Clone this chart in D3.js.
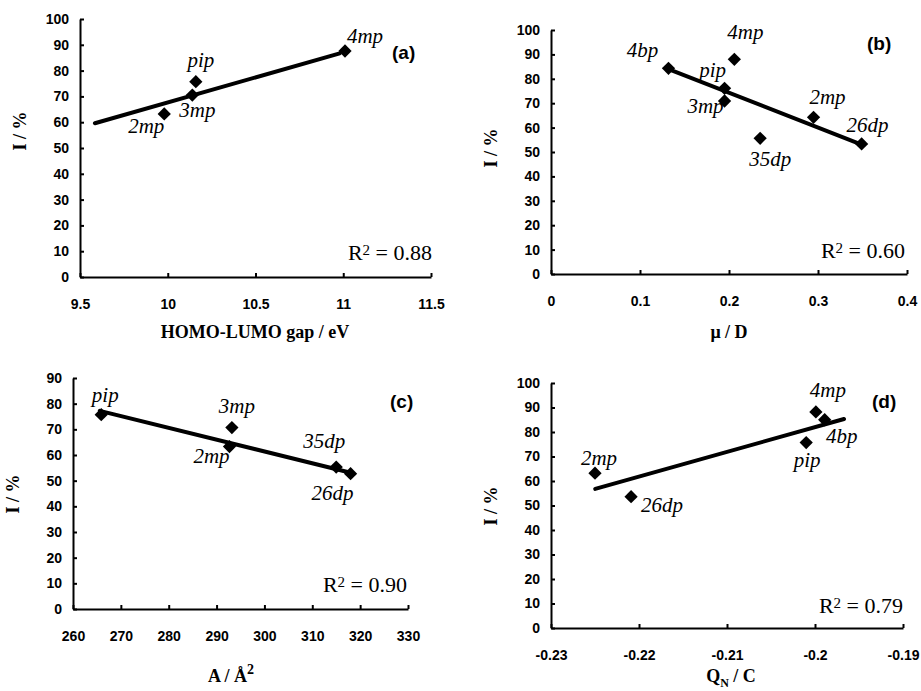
<!DOCTYPE html>
<html>
<head>
<meta charset="utf-8">
<script src="https://cdn.jsdelivr.net/npm/d3@7"></script>
<style>
  body { margin: 0; background: #fff; }
  svg { display: block; }
  .tick text { font-family: "Liberation Sans", Arial, sans-serif; font-weight: bold; font-size: 14px; fill: #000; }
  .title { font-family: "Liberation Serif", "Times New Roman", "DejaVu Serif", serif; font-weight: bold; font-size: 18px; }
  .lbl { font-family: "Liberation Serif", "Times New Roman", "DejaVu Serif", serif; font-style: italic; font-size: 21px; }
  .r2 { font-family: "Liberation Serif", "Times New Roman", serif; font-size: 22px; }
  .tag { font-family: "Liberation Sans", Arial, sans-serif; font-size: 19px; font-weight: bold; }
</style>
</head>
<body>
<svg width="921" height="691"></svg>
<script>
// panel (a) : HOMO-LUMO gap
const namesA = ["2mp", "3mp", "pip", "4mp"];
const gapA   = [9.98, 10.14, 10.16, 11.01];
const inhA   = [63.2, 70.5, 75.7, 87.6];
const fitXA  = [9.585, 10.98];
const fitYA  = [59.6, 86.7];
const xTicksA = [9.5, 10, 10.5, 11, 11.5];
const xTickLabelsA = ["9.5", "10", "10.5", "11", "11.5"];

// panel (b) : dipole moment
const namesB = ["4bp", "4mp", "pip", "3mp", "35dp", "2mp", "26dp"];
const muB    = [0.132, 0.206, 0.195, 0.195, 0.235, 0.295, 0.349];
const inhB   = [84.3, 88.0, 76.1, 70.9, 55.6, 64.2, 53.3];
const fitXB  = [0.132, 0.349];
const fitYB  = [84.0, 53.0];
const xTicksB = [0, 0.1, 0.2, 0.3, 0.4];
const xTickLabelsB = ["0", "0.1", "0.2", "0.3", "0.4"];

// panel (c) : molecular area
const namesC = ["pip", "3mp", "2mp", "35dp", "26dp"];
const areaC  = [265.9, 293.2, 292.7, 315.0, 318.0];
const inhC   = [75.7, 70.7, 63.3, 55.3, 52.7];
const fitXC  = [265.6, 317.8];
const fitYC  = [77.2, 53.2];
const xTicksC = [260, 270, 280, 290, 300, 310, 320, 330];
const xTickLabelsC = ["260", "270", "280", "290", "300", "310", "320", "330"];

// panel (d) : charge on N
const namesD = ["2mp", "26dp", "pip", "4mp", "4bp"];
const qnD    = [-0.2250, -0.2209, -0.2010, -0.1999, -0.1989];
const inhD   = [63.2, 53.6, 75.7, 88.2, 85.0];
const fitXD  = [-0.22497, -0.1967];
const fitYD  = [56.8, 85.3];
const xTicksD = [-0.23, -0.22, -0.21, -0.2, -0.19];
const xTickLabelsD = ["-0.23", "-0.22", "-0.21", "-0.2", "-0.19"];

const yTicks100 = [0, 10, 20, 30, 40, 50, 60, 70, 80, 90, 100];
const yTicks90  = [0, 10, 20, 30, 40, 50, 60, 70, 80, 90];
const r2Values = ["0.88", "0.60", "0.90", "0.79"];
const tags = ["(a)", "(b)", "(c)", "(d)"];

// label offsets from the marker (text centre, baseline)
const labelOffsets = {
  a: { "2mp": [-18, 19], "3mp": [5, 22], "pip": [5, -15], "4mp": [20, -8] },
  b: { "4bp": [-26, -11], "4mp": [11, -20], "pip": [-12, -11], "3mp": [-19, 12],
       "35dp": [10, 28], "2mp": [14, -13], "26dp": [6, -12] },
  c: { "pip": [4, -13], "3mp": [5, -15], "2mp": [-18, 16], "35dp": [-12, -19], "26dp": [-18, 26] },
  d: { "2mp": [4, -8], "26dp": [31, 15], "pip": [1, 24], "4mp": [12, -15], "4bp": [17, 23] }
};

const svg = d3.select("svg");

const panels = [
  { key: "a", names: namesA, xs: gapA, ys: inhA, fx: fitXA, fy: fitYA,
    xDom: [9.5, 11.5], yMax: 100, xt: xTicksA, xl: xTickLabelsA, yt: yTicks100,
    box: [80, 431, 19, 277], yTitleY: 131, tagPos: [392, 59], r2Pos: [432, 260],
    xTitle: "HOMO-LUMO gap  / eV", xTitlePos: [255, 338] },
  { key: "b", names: namesB, xs: muB, ys: inhB, fx: fitXB, fy: fitYB,
    xDom: [0, 0.4], yMax: 100, xt: xTicksB, xl: xTickLabelsB, yt: yTicks100,
    box: [551, 907, 30, 274], yTitleY: 148, tagPos: [867, 50], r2Pos: [905, 258],
    xTitle: "\u03bc / D", xTitlePos: [729, 338] },
  { key: "c", names: namesC, xs: areaC, ys: inhC, fx: fitXC, fy: fitYC,
    xDom: [260, 330], yMax: 90, xt: xTicksC, xl: xTickLabelsC, yt: yTicks90,
    box: [73, 408, 378, 609], yTitleY: 494, tagPos: [390, 408], r2Pos: [407, 592],
    xTitle: null, xTitlePos: [231, 682] },
  { key: "d", names: namesD, xs: qnD, ys: inhD, fx: fitXD, fy: fitYD,
    xDom: [-0.23, -0.19], yMax: 100, xt: xTicksD, xl: xTickLabelsD, yt: yTicks100,
    box: [551, 903, 383, 628], yTitleY: 506, tagPos: [872, 408], r2Pos: [903, 613],
    xTitle: null, xTitlePos: [731, 682] }
];

const diamond = d3.symbol().type(d3.symbolSquare).size(88);

panels.forEach((p, pi) => {
  const [l, r, t, b] = p.box;
  const x = d3.scaleLinear().domain(p.xDom).range([l, r]);
  const y = d3.scaleLinear().domain([0, p.yMax]).range([b, t]);

  const xAxis = svg.append("g")
    .attr("transform", `translate(0,${b})`)
    .call(d3.axisBottom(x).tickValues(p.xt)
      .tickFormat((d, i) => p.xl[i]).tickSizeInner(-4).tickSizeOuter(0).tickPadding(22));
  const yAxis = svg.append("g")
    .attr("transform", `translate(${l},0)`)
    .call(d3.axisLeft(y).tickValues(p.yt).tickSizeInner(-4).tickSizeOuter(0).tickPadding(11));
  [xAxis, yAxis].forEach(g => {
    g.select(".domain").attr("stroke", "#000").attr("stroke-width", 2);
    g.selectAll(".tick line").attr("stroke", "#000").attr("stroke-width", 2);
  });

  // trend line
  const fit = p.fx.map((v, i) => [v, p.fy[i]]);
  svg.append("path")
    .datum(fit)
    .attr("d", d3.line().x(d => x(d[0])).y(d => y(d[1])))
    .attr("fill", "none")
    .attr("stroke", "#000")
    .attr("stroke-width", 4)
    .attr("stroke-linecap", "round");

  // markers
  svg.append("g").selectAll("path")
    .data(p.names)
    .enter()
    .append("path")
    .attr("d", diamond)
    .attr("transform", (d, i) => `translate(${x(p.xs[i])},${y(p.ys[i])}) rotate(45)`)
    .attr("fill", "#000");

  // point labels
  svg.append("g").selectAll("text")
    .data(p.names)
    .enter()
    .append("text")
    .attr("class", "lbl")
    .attr("text-anchor", "middle")
    .attr("x", (d, i) => x(p.xs[i]) + labelOffsets[p.key][d][0])
    .attr("y", (d, i) => y(p.ys[i]) + labelOffsets[p.key][d][1])
    .text(d => d);

  // y title
  svg.append("text")
    .attr("class", "title")
    .attr("text-anchor", "middle")
    .attr("dominant-baseline", "middle")
    .attr("transform", `translate(${l - 58},${p.yTitleY}) rotate(-90)`)
    .text("I / %");

  // x title
  const xt = svg.append("text")
    .attr("class", "title")
    .attr("text-anchor", "middle")
    .attr("x", p.xTitlePos[0])
    .attr("y", p.xTitlePos[1]);
  if (p.key === "c") {
    xt.append("tspan").text("A / \u00c5");
    xt.append("tspan").attr("dy", -8).attr("font-size", 14).text("2");
  } else if (p.key === "d") {
    xt.append("tspan").text("Q");
    xt.append("tspan").attr("dy", 5).attr("font-size", 12).text("N");
    xt.append("tspan").attr("dy", -5).text(" / C");
  } else {
    xt.text(p.xTitle);
  }

  // R^2
  const r2 = svg.append("text")
    .attr("class", "r2")
    .attr("text-anchor", "end")
    .attr("x", p.r2Pos[0])
    .attr("y", p.r2Pos[1]);
  r2.append("tspan").text("R");
  r2.append("tspan").attr("font-size", 15).attr("dy", -5).text("2");
  r2.append("tspan").attr("dy", 5).text(" = " + r2Values[pi]);

  // panel tag
  svg.append("text")
    .attr("class", "tag")
    .attr("x", p.tagPos[0])
    .attr("y", p.tagPos[1])
    .text(tags[pi]);
});
</script>
</body>
</html>
